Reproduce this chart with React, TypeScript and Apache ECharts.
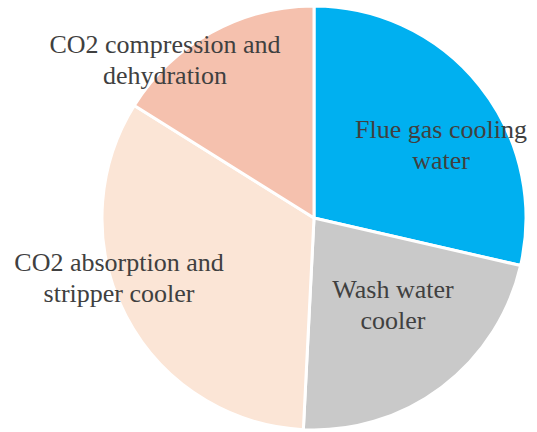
import React, { useEffect, useRef } from "react";
import * as echarts from "echarts";

const categories = [
  "Flue gas cooling water",
  "Wash water cooler",
  "CO2 absorption and stripper cooler",
  "CO2 compression and dehydration",
];
const labelTexts = [
  ["Flue gas cooling", "water"],
  ["Wash water", "cooler"],
  ["CO2 absorption and", "stripper cooler"],
  ["CO2 compression and", "dehydration"],
];
const values = [28.6, 22.2, 33.1, 16.1];
const colors = ["#00B0F0", "#C9C9C9", "#FBE5D6", "#F5C1AE"];
const labelX = [441, 393, 119, 165];
const labelY = [145, 305, 278, 60];
const FONT = "Liberation Serif";

export default function App() {
  const ref = useRef<HTMLDivElement>(null);
  useEffect(() => {
    const chart = echarts.init(ref.current!, null, { renderer: "svg" });
    chart.setOption({
      animation: false,
      textStyle: { fontFamily: FONT },
      series: [
        {
          type: "pie",
          center: [314, 218],
          radius: 212,
          startAngle: 90,
          clockwise: true,
          silent: true,
          itemStyle: { borderColor: "#FFFFFF", borderWidth: 3 },
          label: {
            show: true,
            position: "inside",
            formatter: (p: any) =>
              labelTexts[p.dataIndex].map((s) => "{t|" + s + "}").join("\n"),
            color: "#404040",
            fontFamily: FONT,
            fontSize: 26,
            lineHeight: 31,
            align: "center",
            rich: {
              t: {
                fontFamily: FONT,
                fontSize: 26,
                lineHeight: 31,
                color: "#404040",
                align: "center",
              },
            },
          },
          labelLine: { show: false },
          labelLayout: (p: any) => ({
            x: labelX[p.dataIndex],
            y: labelY[p.dataIndex],
            align: "center",
            verticalAlign: "middle",
          }),
          data: categories.map((c, i) => ({
            name: c,
            value: values[i],
            itemStyle: { color: colors[i] },
          })),
        },
      ],
    });
    return () => chart.dispose();
  }, []);
  return (
    <div
      ref={ref}
      style={{ position: "absolute", left: 0, top: 0, width: 537, height: 432, background: "#FFFFFF" }}
    />
  );
}
